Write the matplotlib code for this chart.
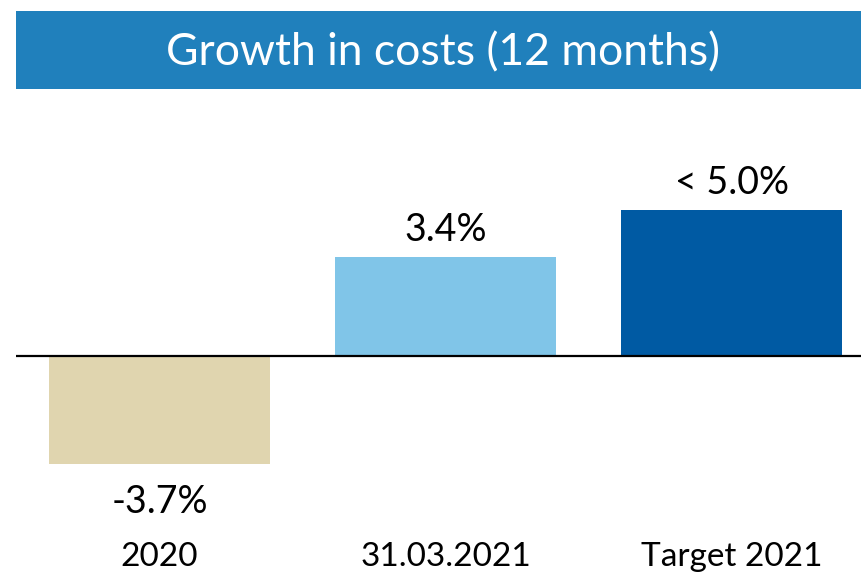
import matplotlib.pyplot as plt
from matplotlib.patches import Rectangle

plt.rcParams["font.family"] = ["Lato", "DejaVu Sans"]

categories = ["2020", "31.03.2021", "Target 2021"]
values = [-3.7, 3.4, 5.0]
value_labels = ["-3.7%", "3.4%", "< 5.0%"]
colors = ["#E0D5AF", "#80C5E8", "#005AA3"]
title = "Growth in costs (12 months)"

W, H = 862, 575
fig = plt.figure(figsize=(W / 100, H / 100), dpi=100)

# title banner
fig.patches.append(Rectangle((16 / W, (H - 89) / H), 1 - 16 / W, 78 / H,
                             transform=fig.transFigure, facecolor="#2080BC",
                             edgecolor="none"))
fig.text(443 / W, (H - 53) / H, title, color="white", fontsize=32,
         ha="center", va="center")

ax = fig.add_axes([16 / W, 0, 1 - 16 / W, 475 / H])
x = list(range(len(categories)))
ax.bar(x, values, width=0.773, color=colors)
ax.set_xlim(-0.502, 2.456)
ax.set_ylim(-7.5, 8.77)
ax.axhline(0, color="black", lw=1.6)
ax.axis("off")

for xi, v, lab in zip(x, values, value_labels):
    off = 27 if v > 0 else -38
    ax.annotate(lab, (xi, v), xytext=(0, off), textcoords="offset pixels",
                ha="center", va="center", fontsize=27, color="black")

# category labels sit just above the bottom edge
for xi, cat in zip(x, categories):
    ax.text(xi, 9 / 475, cat, transform=ax.get_xaxis_transform(),
            ha="center", va="baseline", fontsize=24, color="black")

fig.savefig("out.png", dpi=100)
